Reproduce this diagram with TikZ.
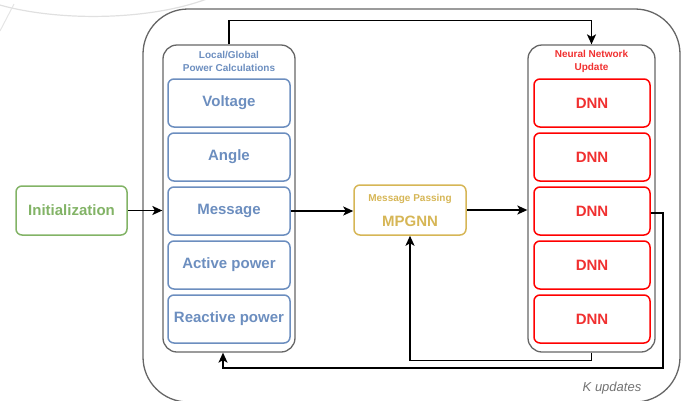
\documentclass[tikz,border=0pt]{standalone}
\usepackage{fontspec}
\setmainfont{Liberation Sans}
\usetikzlibrary{arrows.meta}
\definecolor{bl}{HTML}{6C8EBF}
\definecolor{gr}{HTML}{82B366}
\definecolor{gd}{HTML}{D6B656}
\definecolor{rd}{HTML}{FF0000}
\definecolor{rdt}{HTML}{F03030}
\begin{document}
\begin{tikzpicture}[x=1pt,y=-1pt,
  container/.style={draw=black!60, line width=1.3pt, rounded corners=14pt, inner sep=0pt},
  bigfont/.style={font=\fontsize{15}{18}\selectfont\bfseries},
  smallfont/.style={font=\fontsize{10}{13}\selectfont\bfseries, align=center, inner sep=0pt},
  bluebox/.style={draw=bl, text=bl, line width=1.5pt, rounded corners=6pt, minimum width=122pt, minimum height=48pt, inner sep=0pt, bigfont},
  redbox/.style={draw=rd, text=rdt, line width=1.5pt, rounded corners=6pt, minimum width=116pt, minimum height=48pt, inner sep=0pt, bigfont},
  arr/.style={-{Stealth[length=10pt,width=9pt,inset=2.5pt]}, line width=1.5pt, black}
]
\useasboundingbox (0,0) rectangle (689,400);

% faint background arcs
\draw[black!12, line width=1.2pt] (-10,2) .. controls (50,22) and (150,22) .. (212,-3);
\draw[black!10, line width=1pt] (0,31) -- (14,4);

% outer container
\node[draw=black!60, line width=1.3pt, rounded corners=45pt, minimum width=537pt, minimum height=393pt, inner sep=0pt] (outer) at (411.5,205.5) {};
\node[font=\fontsize{13}{15}\selectfont\itshape, text=black!55, inner sep=0pt] (kup) at (612,388) {K updates};

% left container
\node[container, minimum width=132pt, minimum height=307pt] (lc) at (229,198.5) {};
\node[smallfont, text=bl] (lct) at (229,61) {Local/Global\\Power Calculations};
\node[bluebox] (v) at (229,103) {Voltage};
\node[bluebox] (a) at (229,157) {Angle};
\node[bluebox] (m) at (229,211) {Message};
\node[bluebox] (ap) at (229,265) {Active power};
\node[bluebox] (rp) at (229,319) {Reactive power};

% right container
\node[container, minimum width=127pt, minimum height=307pt] (rc) at (591.5,198.5) {};
\node[smallfont, text=rdt] (rct) at (591.5,61) {Neural Network\\Update};
\node[redbox] (d1) at (592,103) {DNN};
\node[redbox] (d2) at (592,157) {DNN};
\node[redbox] (d3) at (592,211) {DNN};
\node[redbox] (d4) at (592,265) {DNN};
\node[redbox] (d5) at (592,319) {DNN};

% initialization
\node[draw=gr, text=gr, line width=1.5pt, rounded corners=6pt, minimum width=111pt, minimum height=49pt, inner sep=0pt, bigfont] (init) at (71.5,210.5) {Initialization};

% message passing
\node[draw=gd, line width=1.5pt, rounded corners=6pt, minimum width=112pt, minimum height=50pt, inner sep=0pt] (mp) at (410,210) {};
\node[smallfont, text=gd] (mpt) at (410,199) {Message Passing};
\node[bigfont, text=gd, inner sep=0pt] (mpn) at (410,221) {MPGNN};

% connectors
\draw[arr] (init.east) -- (init.east -| lc.west);
\draw[arr] (m.east) -- (m.east -| mp.west);
\draw[arr] (mp.east) -- (mp.east -| rc.west);
\draw[arr] (lc.north) -- ++(0,-24) -| (rc.north);
\draw[arr] (rc.south) -- ++(0,8) -| (mp.south);
\coordinate (c1) at (663,368);
\draw[arr] ([yshift=-2pt]d3.east) -| (c1) -| ([xshift=-6pt]lc.south);
\end{tikzpicture}
\end{document}
